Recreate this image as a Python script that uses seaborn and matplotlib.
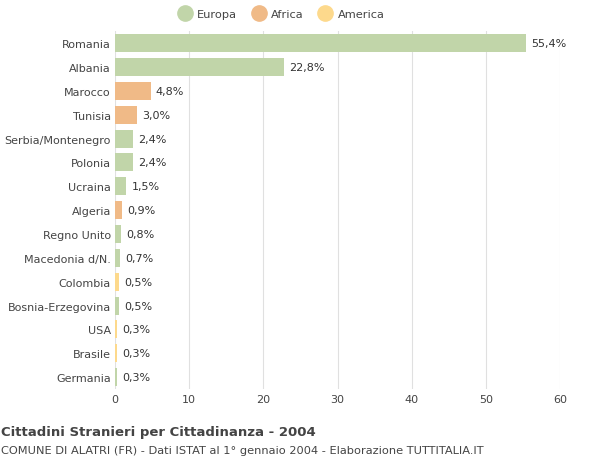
import matplotlib
matplotlib.use("Agg")
import matplotlib.pyplot as plt
import seaborn as sns
import pandas as pd
from matplotlib.lines import Line2D

categories = ["Romania","Albania","Marocco","Tunisia","Serbia/Montenegro","Polonia","Ucraina",
              "Algeria","Regno Unito","Macedonia d/N.","Colombia","Bosnia-Erzegovina","USA","Brasile","Germania"]
values = [55.4,22.8,4.8,3.0,2.4,2.4,1.5,0.9,0.8,0.7,0.5,0.5,0.3,0.3,0.3]
continents = ["Europa","Europa","Africa","Africa","Europa","Europa","Europa","Africa","Europa","Europa",
              "America","Europa","America","America","Europa"]
labels = ["55,4%","22,8%","4,8%","3,0%","2,4%","2,4%","1,5%","0,9%","0,8%","0,7%","0,5%","0,5%","0,3%","0,3%","0,3%"]
palette = {"Europa":"#c1d5a9","Africa":"#f0ba87","America":"#fdd98c"}

df = pd.DataFrame({"cat":categories,"val":values,"cont":continents})
fig = plt.figure(figsize=(6,4.6), dpi=100)
ax = fig.add_axes([0.1917,0.152,0.7417,0.778])
sns.barplot(data=df, x="val", y="cat", hue="cont", palette=palette, dodge=False,
            width=0.75, ax=ax, legend=False, saturation=1)
for i,(v,l) in enumerate(zip(values,labels)):
    ax.text(v+0.7, i, l, va="center", ha="left", fontsize=8, color="#333333")
ax.set_xlim(0,60)
ax.set_xticks(range(0,61,10))
ax.set_xlabel(""); ax.set_ylabel("")
ax.grid(axis="x", color="#e0e0e0", lw=0.8)
ax.set_axisbelow(True)
for s in ax.spines.values(): s.set_visible(False)
ax.tick_params(length=0, labelsize=8, colors="#444444")
ax.tick_params(axis="y", pad=3)
handles = [Line2D([0],[0], marker="o", ls="", markersize=11, markerfacecolor=palette[k],
                  markeredgecolor=palette[k], label=k) for k in ["Europa","Africa","America"]]
fig.legend(handles=handles, loc="center", bbox_to_anchor=(0.465,0.967), ncol=3, frameon=False,
           fontsize=8.2, handletextpad=0.1, columnspacing=0.9, labelcolor="#444444")
fig.text(0.002,0.052,"Cittadini Stranieri per Cittadinanza - 2004", fontsize=9.5, fontweight="bold", color="#444444")
fig.text(0.002,0.012,"COMUNE DI ALATRI (FR) - Dati ISTAT al 1° gennaio 2004 - Elaborazione TUTTITALIA.IT", fontsize=8.2, color="#444444")
fig.savefig("out.png", dpi=100)
